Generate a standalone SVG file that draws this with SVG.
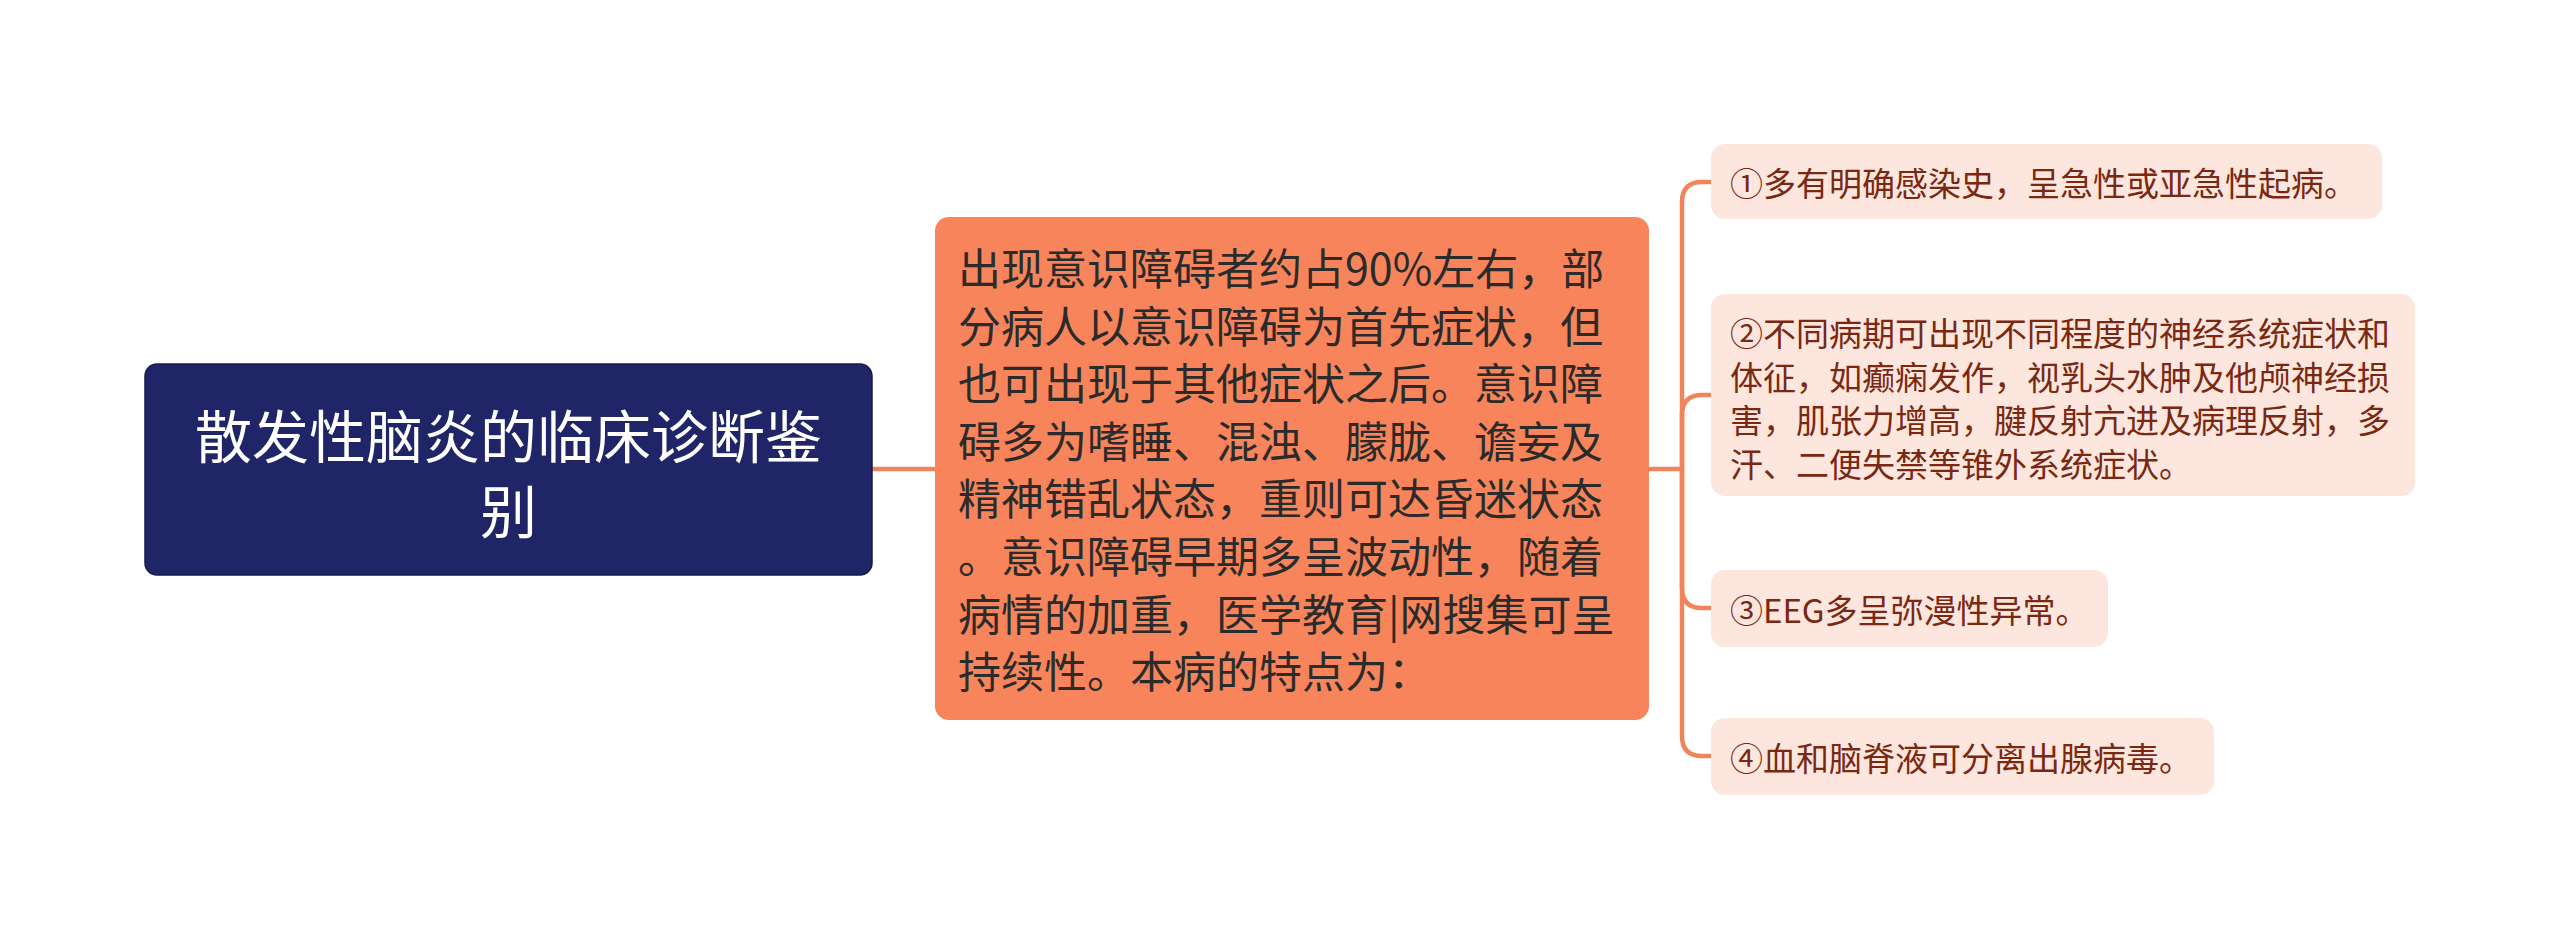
<svg xmlns="http://www.w3.org/2000/svg" width="2560" height="939" viewBox="0 0 2560 939">
<style>
.t{font-family:"Noto Sans CJK SC","Noto Sans",sans-serif;dominant-baseline:central}
.root{fill:#ffffff;font-size:57px}
.mid{fill:#2b2b2b;font-size:43px}
.leaf{fill:#7a2812;font-size:33px}
.conn{fill:none;stroke:#f0855c;stroke-width:4.5;stroke-linecap:round}
.leafbox{fill:#fde6dd}
</style>
<rect width="2560" height="939" fill="#ffffff"/>
<g id="connectors">
<path class="conn" d="M872 469 H935"/>
<path class="conn" d="M1649 469 H1682"/>
<path class="conn" d="M1682 469 V202 Q1682 182 1702 182 H1711"/>
<path class="conn" d="M1682 469 V415 Q1682 395 1702 395 H1711"/>
<path class="conn" d="M1682 469 V588 Q1682 608 1702 608 H1711"/>
<path class="conn" d="M1682 469 V736 Q1682 756 1702 756 H1711"/>
</g>
<g id="root">
<rect x="145" y="364" width="727" height="211" rx="12" fill="#1f2566" stroke="#161b4d" stroke-width="1.5"/>
<text class="t root" x="508.5" text-anchor="middle"><tspan x="508.5" y="433">散发性脑炎的临床诊断鉴</tspan><tspan x="508.5" y="508">别</tspan></text>
</g>
<g id="center">
<rect x="935" y="217" width="714" height="503" rx="14" fill="#f7845a"/>
<text class="t mid"><tspan x="958" y="266">出现意识障碍者约占90%左右，部</tspan><tspan x="958" y="323.6">分病人以意识障碍为首先症状，但</tspan><tspan x="958" y="381.2">也可出现于其他症状之后。意识障</tspan><tspan x="958" y="438.8">碍多为嗜睡、混浊、朦胧、谵妄及</tspan><tspan x="958" y="496.4">精神错乱状态，重则可达昏迷状态</tspan><tspan x="958" y="554">。意识障碍早期多呈波动性，随着</tspan><tspan x="958" y="611.6">病情的加重，医学教育|网搜集可呈</tspan><tspan x="958" y="669.2">持续性。本病的特点为：</tspan></text>
</g>
<g id="leaf1">
<rect class="leafbox" x="1711" y="144" width="671" height="75" rx="14"/>
<text class="t leaf" x="1730" y="182">①多有明确感染史，呈急性或亚急性起病。</text>
</g>
<g id="leaf2">
<rect class="leafbox" x="1711" y="294" width="704" height="202" rx="14"/>
<text class="t leaf"><tspan x="1730" y="332">②不同病期可出现不同程度的神经系统症状和</tspan><tspan x="1730" y="375.5">体征，如癫痫发作，视乳头水肿及他颅神经损</tspan><tspan x="1730" y="419">害，肌张力增高，腱反射亢进及病理反射，多</tspan><tspan x="1730" y="462.5">汗、二便失禁等锥外系统症状。</tspan></text>
</g>
<g id="leaf3">
<rect class="leafbox" x="1711" y="570" width="397" height="77" rx="14"/>
<text class="t leaf" x="1730" y="609">③EEG多呈弥漫性异常。</text>
</g>
<g id="leaf4">
<rect class="leafbox" x="1711" y="718" width="503" height="77" rx="14"/>
<text class="t leaf" x="1730" y="757">④血和脑脊液可分离出腺病毒。</text>
</g>
</svg>
